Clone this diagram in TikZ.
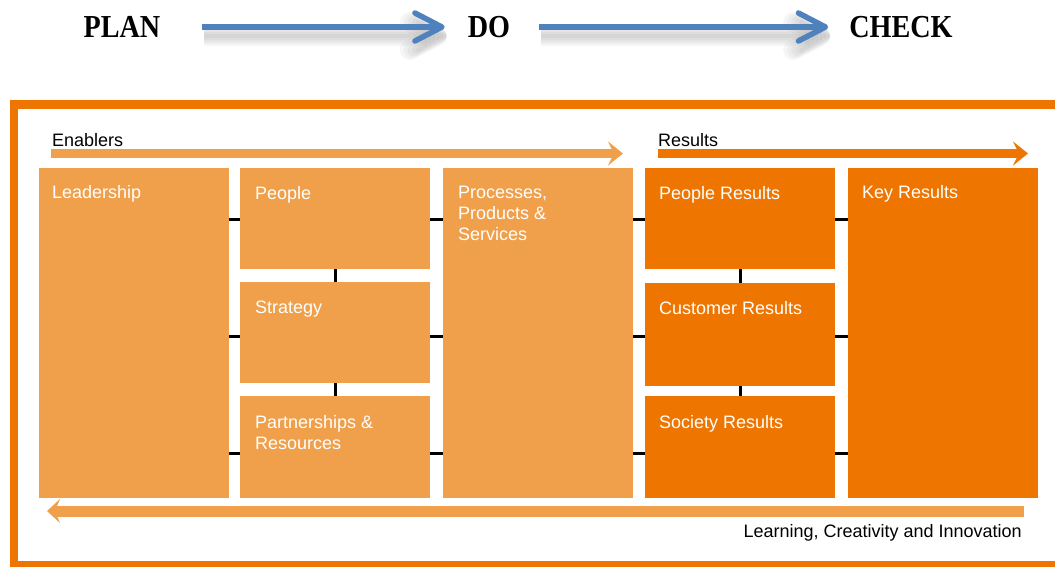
\documentclass[tikz,border=0pt]{standalone}
\usepackage{fontspec}
\setmainfont{Liberation Serif}
\setsansfont{Liberation Sans}
\usetikzlibrary{arrows.meta,positioning,calc}
\definecolor{lightorange}{HTML}{F0A04B}
\definecolor{darkorange}{HTML}{EE7600}
\definecolor{pdcablue}{HTML}{4F81BD}

\begin{document}
\begin{tikzpicture}[x=1pt,y=-1pt,
 stage/.style={font=\fontsize{32}{32}\selectfont\bfseries,inner sep=0pt},
 box/.style={anchor=north west,minimum width=190pt,inner sep=0pt,outer sep=0pt},
 enabler/.style={box,fill=lightorange},
 result/.style={box,fill=darkorange},
 boxtext/.style={anchor=north west,inner sep=0pt,align=left,text=white,font=\sffamily\fontsize{18}{21}\selectfont},
 caption/.style={inner sep=0pt,font=\sffamily\fontsize{18}{18}\selectfont},
 link/.style={line width=3pt,black},
 band/.style={line width=9pt,-{Stealth[length=15pt,width=24pt,inset=6pt]}},
 pdca/.style={line width=5.5pt,pdcablue,-{Straight Barb[length=27pt,width=28pt,round]}},
 haze/.style={line width=#1,black,opacity=0.035,-{Straight Barb[length=27pt,width=28pt,round]}}]
\useasboundingbox (0,0) rectangle (1055,566);
\clip (0,0) rectangle (1055,566);
\node[stage] (plan) at (122,27) {\scalebox{0.88}[1]{PLAN}};
\node[stage] (do) at (489,27) {\scalebox{0.88}[1]{DO}};
\node[stage] (check) at (901,27) {\scalebox{0.88}[1]{CHECK}};
\foreach \w in {4,8,12,16,20} {
 \draw[haze=\w pt] ([shift={(43,9)}]plan.east) -- ([shift={(-21,9)}]do.west);
 \draw[haze=\w pt] ([shift={(31,9)}]do.east) -- ([shift={(-19,9)}]check.west);
}
\draw[pdca] ([xshift=41pt]plan.east) -- ([xshift=-23pt]do.west);
\draw[pdca] ([xshift=29pt]do.east) -- ([xshift=-21pt]check.west);

\draw[darkorange,line width=8.5pt] (14,104.5) rectangle (1070,565);

\node[caption,anchor=base west] (enab) at (52,146) {Enablers};
\coordinate (enabstart) at (51,153.5);
\coordinate (enabend) at (623,153.5);
\draw[band,lightorange] (enabstart) -- (enabend);
\node[caption,anchor=base west] (res) at (658,146) {Results};
\coordinate (resstart) at (658,153.5);
\coordinate (resend) at (1028,153.5);
\draw[band,darkorange] (resstart) -- (resend);

\node[enabler,minimum height=330pt] (lead) at (39,168) {};
\node[enabler,minimum height=101pt] (people) at (240,168) {};
\node[enabler,minimum height=101pt] (strat) at (240,282) {};
\node[enabler,minimum height=102pt] (partner) at (240,396) {};
\node[enabler,minimum height=330pt] (proc) at (443,168) {};
\node[result,minimum height=101pt] (pres) at (645,168) {};
\node[result,minimum height=103pt] (cres) at (645,283) {};
\node[result,minimum height=102pt] (sres) at (645,396) {};
\node[result,minimum height=330pt] (kres) at (848,168) {};

\node[boxtext] (leadtxt) at ([shift={(13,17)}]lead.north west) {Leadership};
\node[boxtext] (peopletxt) at ([shift={(15,18)}]people.north west) {People};
\node[boxtext] (strattxt) at ([shift={(15,19)}]strat.north west) {Strategy};
\node[boxtext] (partnertxt) at ([shift={(15,19)}]partner.north west) {Partnerships \&\\Resources};
\node[boxtext] (proctxt) at ([shift={(15,18)}]proc.north west) {Processes,\\Products \&\\Services};
\node[boxtext] (prestxt) at ([shift={(14,18)}]pres.north west) {People Results};
\node[boxtext] (crestxt) at ([shift={(14,18)}]cres.north west) {Customer Results};
\node[boxtext] (srestxt) at ([shift={(14,19)}]sres.north west) {Society Results};
\node[boxtext] (krestxt) at ([shift={(14,17)}]kres.north west) {Key Results};

\coordinate (row1) at (0,219);
\coordinate (row2) at (0,336);
\coordinate (row3) at (0,453);
\draw[link] (lead.east |- row1) -- (people.west |- row1);
\draw[link] (people.east |- row1) -- (proc.west |- row1);
\draw[link] (proc.east |- row1) -- (pres.west |- row1);
\draw[link] (pres.east |- row1) -- (kres.west |- row1);
\draw[link] (lead.east |- row2) -- (strat.west |- row2);
\draw[link] (strat.east |- row2) -- (proc.west |- row2);
\draw[link] (proc.east |- row2) -- (cres.west |- row2);
\draw[link] (cres.east |- row2) -- (kres.west |- row2);
\draw[link] (lead.east |- row3) -- (partner.west |- row3);
\draw[link] (partner.east |- row3) -- (proc.west |- row3);
\draw[link] (proc.east |- row3) -- (sres.west |- row3);
\draw[link] (sres.east |- row3) -- (kres.west |- row3);
\draw[link] (people.south) -- (strat.north);
\draw[link] (strat.south) -- (partner.north);
\draw[link] (pres.south) -- (cres.north);
\draw[link] (cres.south) -- (sres.north);

\coordinate (learnstart) at (1024,511);
\coordinate (learnend) at (47,511);
\draw[lightorange,line width=11pt,-{Stealth[length=13pt,width=24pt,inset=5pt]}] (learnstart) -- (learnend);
\node[caption,anchor=base east] (learn) at (1022,537) {Learning, Creativity and Innovation};
\end{tikzpicture}
\end{document}
